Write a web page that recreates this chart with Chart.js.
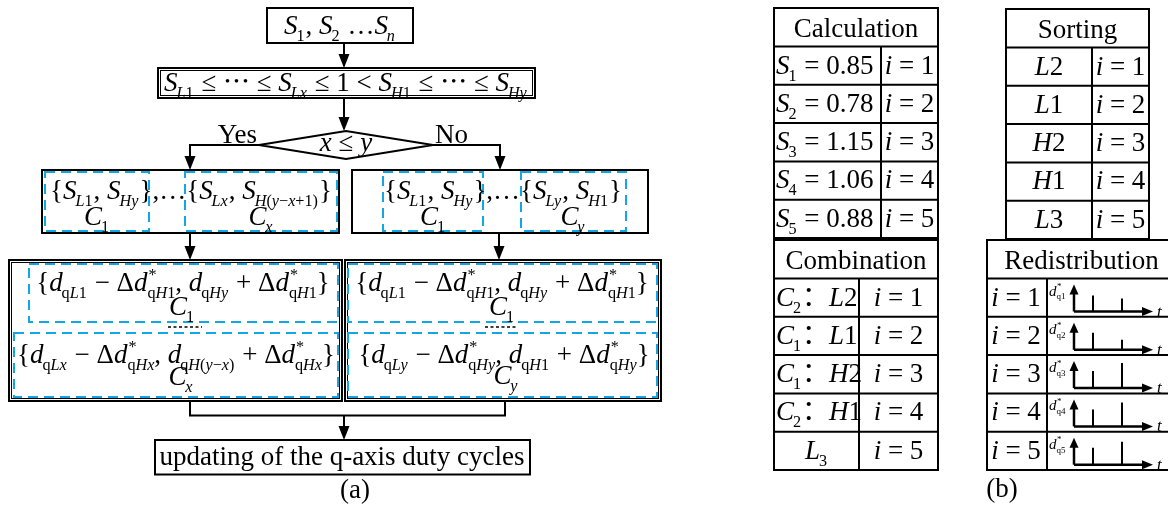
<!DOCTYPE html>
<html>
<head>
<meta charset="utf-8">
<title>q-axis duty cycle redistribution</title>
<script src="https://cdn.jsdelivr.net/npm/chart.js@4.4.0/dist/chart.umd.min.js"></script>
<style>
  html, body { margin: 0; padding: 0; background: #fff; }
  canvas { display: block; }
</style>
</head>
<body>
<canvas id="diagram" width="1168" height="505"></canvas>
<script>
/*************************
 TABLE CONTENTS
**************************/
const stepIndex = [1, 2, 3, 4, 5];
const calcRatios = [0.85, 0.78, 1.15, 1.06, 0.88];
const sortedLabels = ["L2", "L1", "H2", "H1", "L3"];
const comboGroups = ["C_{2}", "C_{1}", "C_{1}", "C_{2}", null];
const comboMembers = ["L2", "L1", "H2", "H1", "L_{3}"];
// pulse heights of the redistributed duty cycles (first / second pulse)
const dutyPulseA = [16, 17, 17, 17, 17];
const dutyPulseB = [13, 10, 25, 24, 23];

/*************************
 STYLE + GEOMETRY
**************************/
const FONT = '"Liberation Serif", "DejaVu Serif", "Noto Sans CJK SC", serif';
const SIZE = 27;
const BLUE = "#13a6e3";
const HEAD_H = 38.5;
const ROW_H = 38.3;

const calcTable = { x0: 774, x1: 938, xm: 881, y0: 8 };
const sortTable = { x0: 1006, x1: 1149, xm: 1092, y0: 9 };
const comboTable = { x0: 774, x1: 938, xm: 859, y0: 240 };
const redistTable = { x0: 987, x1: 1176, xm: 1047, y0: 240 };
const mini = { axisX: 1074, tipX: 1153, pulseX: [1093, 1122], baseOff: 33 };

/*************************
 MATH TEXT HELPERS
**************************/
function fontOf(italic, size) {
  return (italic ? "italic " : "") + size + "px " + FONT;
}

// split "S_{L1} ^{*}" style markup into base / sub / sup tokens
function tokenize(src) {
  const out = [];
  let i = 0;
  const isScript = j => (src[j] === "_" || src[j] === "^") && src[j + 1] === "{";
  while (i < src.length) {
    if (isScript(i)) {
      const end = src.indexOf("}", i + 2);
      out.push({ lvl: src[i] === "_" ? 1 : -1, body: src.slice(i + 2, end) });
      i = end + 1;
    } else {
      let j = i;
      while (j < src.length && !isScript(j)) j++;
      out.push({ lvl: 0, body: src.slice(i, j) });
      i = j;
    }
  }
  return out;
}

// letters are italic unless wrapped in [ ]
function splitRuns(body) {
  const runs = [];
  let roman = false;
  for (const ch of body) {
    if (ch === "[") { roman = true; continue; }
    if (ch === "]") { roman = false; continue; }
    const it = !roman && /[A-Za-z]/.test(ch);
    const last = runs[runs.length - 1];
    if (last && last.it === it) last.t += ch;
    else runs.push({ t: ch, it });
  }
  return runs;
}

function layoutMath(ctx, src, size) {
  const toks = tokenize(src);
  const placed = [];
  let pen = 0, supW = null;
  toks.forEach((tk, k) => {
    const fs = tk.lvl ? size * 0.6 : size;
    const runs = splitRuns(tk.body);
    let w = 0;
    runs.forEach(r => {
      ctx.font = fontOf(r.it, fs);
      r.w = ctx.measureText(r.t).width;
      w += r.w;
    });
    const dy = tk.lvl === 1 ? size * 0.26 : tk.lvl === -1 ? -size * 0.42 : 0;
    let x0 = pen;
    if (tk.lvl === 1 && k > 0 && toks[k - 1].lvl === 0) x0 -= size * 0.04;
    if (tk.lvl === -1) x0 += size * 0.04;
    placed.push({ x: x0, dy, fs, runs });
    const next = toks[k + 1];
    if (tk.lvl === -1 && next && next.lvl === 1) supW = w;
    else if (tk.lvl === 1 && supW !== null) { pen += Math.max(w, supW); supW = null; }
    else pen += w;
  });
  return { placed, width: pen };
}

function drawMath(ctx, src, x, base, size, align) {
  const lay = layoutMath(ctx, src, size || SIZE);
  let ox = x;
  if (align === "center") ox = x - lay.width / 2;
  else if (align === "right") ox = x - lay.width;
  ctx.fillStyle = "#000";
  ctx.textBaseline = "alphabetic";
  ctx.textAlign = "left";
  lay.placed.forEach(p => {
    let cx = ox + p.x;
    p.runs.forEach(r => {
      ctx.font = fontOf(r.it, p.fs);
      ctx.fillText(r.t, cx, base + p.dy);
      cx += r.w;
    });
  });
}

function drawWord(ctx, text, x, base, align) {
  ctx.font = fontOf(false, SIZE);
  ctx.fillStyle = "#000";
  ctx.textBaseline = "alphabetic";
  ctx.textAlign = align || "center";
  ctx.fillText(text, x, base);
}

/*************************
 DIAGRAM PLUGIN
**************************/
const diagramPlugin = {
  id: "diagram",
  beforeDatasetsDraw(chart) {
    const ctx = chart.ctx;
    const X = v => chart.scales.x.getPixelForValue(v);
    const Y = v => chart.scales.y.getPixelForValue(v);

    const box = (x0, y0, x1, y1, lw, double) => {
      ctx.save();
      ctx.strokeStyle = "#000";
      ctx.lineWidth = lw || 2;
      ctx.setLineDash([]);
      ctx.strokeRect(X(x0), Y(y0), X(x1) - X(x0), Y(y1) - Y(y0));
      if (double) {
        ctx.lineWidth = 1;
        ctx.strokeRect(X(x0) + 2.5, Y(y0) + 2.5, X(x1) - X(x0) - 5, Y(y1) - Y(y0) - 5);
      }
      ctx.restore();
    };
    const dashed = (x0, y0, x1, y1) => {
      ctx.save();
      ctx.strokeStyle = BLUE;
      ctx.lineWidth = 2;
      ctx.setLineDash([10, 6]);
      ctx.strokeRect(X(x0), Y(y0), X(x1) - X(x0), Y(y1) - Y(y0));
      ctx.restore();
    };
    const poly = (pts, lw) => {
      ctx.save();
      ctx.strokeStyle = "#000";
      ctx.lineWidth = lw || 2;
      ctx.beginPath();
      pts.forEach((p, k) => k ? ctx.lineTo(X(p[0]), Y(p[1])) : ctx.moveTo(X(p[0]), Y(p[1])));
      ctx.stroke();
      ctx.restore();
    };
    const head = (x, y, dir, len, wid) => {
      // dir: "down", "up" or "right"
      ctx.save();
      ctx.fillStyle = "#000";
      ctx.beginPath();
      const px = X(x), py = Y(y);
      if (dir === "down") {
        ctx.moveTo(px, py); ctx.lineTo(px - wid / 2, py - len); ctx.lineTo(px + wid / 2, py - len);
      } else if (dir === "up") {
        ctx.moveTo(px, py); ctx.lineTo(px - wid / 2, py + len); ctx.lineTo(px + wid / 2, py + len);
      } else {
        ctx.moveTo(px, py); ctx.lineTo(px - len, py - wid / 2); ctx.lineTo(px - len, py + wid / 2);
      }
      ctx.closePath();
      ctx.fill();
      ctx.restore();
    };
    const arrowDown = (x, y0, y1) => {
      poly([[x, y0], [x, y1 - 10]]);
      head(x, y1, "down", 14, 11);
    };
    const dots = (x0, x1, y) => {
      ctx.save();
      ctx.strokeStyle = "#000";
      ctx.lineWidth = 1.5;
      ctx.setLineDash([3, 2.5]);
      ctx.beginPath();
      ctx.moveTo(X(x0), Y(y)); ctx.lineTo(X(x1), Y(y));
      ctx.stroke();
      ctx.restore();
    };

    ctx.save();
    ctx.fillStyle = "#fff";
    ctx.fillRect(0, 0, chart.width, chart.height);
    ctx.restore();

    /* ---- (a) flowchart ---- */
    box(267, 8, 413, 43);
    drawMath(ctx, "S_{1}, S_{2} …S_{n}", X(340), Y(34), SIZE, "center");
    arrowDown(344, 43, 68);

    box(158, 68, 535, 98, 2, true);
    drawMath(ctx, "S_{L1} ≤ ⋯ ≤ S_{Lx} ≤ 1 < S_{H1} ≤ ⋯ ≤ S_{Hy}", X(346), Y(91), SIZE, "center");
    arrowDown(344, 98, 131);

    poly([[259, 145], [346, 131], [433, 145], [346, 159], [259, 145]]);
    drawMath(ctx, "x ≤ y", X(346), Y(151), SIZE, "center");
    drawWord(ctx, "Yes", X(257), Y(143), "right");
    drawWord(ctx, "No", X(435), Y(143), "left");
    poly([[259, 145], [190, 145], [190, 160]]);
    head(190, 170, "down", 14, 11);
    poly([[433, 145], [500, 145], [500, 160]]);
    head(500, 170, "down", 14, 11);

    // pairing boxes
    box(42, 170, 339, 233);
    dashed(45, 172, 149, 231);
    dashed(185, 172, 337, 231);
    drawMath(ctx, "{S_{L1}, S_{Hy}},…{S_{Lx}, S_{H(y−x+1)}}", X(191), Y(199), SIZE, "center");
    drawMath(ctx, "C_{1}", X(97), Y(225), SIZE, "center");
    drawMath(ctx, "C_{x}", X(261), Y(225), SIZE, "center");

    box(352, 170, 648, 233);
    dashed(383, 172, 483, 231);
    dashed(521, 172, 626, 231);
    drawMath(ctx, "{S_{L1}, S_{Hy}},…{S_{Ly}, S_{H1}}", X(503), Y(199), SIZE, "center");
    drawMath(ctx, "C_{1}", X(433), Y(225), SIZE, "center");
    drawMath(ctx, "C_{y}", X(573), Y(225), SIZE, "center");

    arrowDown(190, 233, 260);
    arrowDown(499, 233, 260);

    // duty cycle exchange boxes
    box(9, 260, 342, 401, 2, true);
    dashed(29, 264, 338, 322);
    dashed(14, 333, 338, 397);
    drawMath(ctx, "{d_{[q]L1} − Δd^{*}_{[q]H1}, d_{[q]Hy} + Δd^{*}_{[q]H1}}", X(183), Y(291), SIZE, "center");
    drawMath(ctx, "C_{1}", X(182), Y(315), SIZE, "center");
    dots(168, 202, 327);
    drawMath(ctx, "{d_{[q]Lx} − Δd^{*}_{[q]Hx}, d_{[q]H(y−x)} + Δd^{*}_{[q]Hx}}", X(176), Y(363), SIZE, "center");
    drawMath(ctx, "C_{x}", X(181), Y(385), SIZE, "center");

    box(345, 260, 661, 401, 2, true);
    dashed(348, 264, 657, 322);
    dashed(348, 333, 657, 397);
    drawMath(ctx, "{d_{[q]L1} − Δd^{*}_{[q]H1}, d_{[q]Hy} + Δd^{*}_{[q]H1}}", X(502), Y(291), SIZE, "center");
    drawMath(ctx, "C_{1}", X(502), Y(315), SIZE, "center");
    dots(485, 518, 327);
    drawMath(ctx, "{d_{[q]Ly} − Δd^{*}_{[q]Hy}, d_{[q]H1} + Δd^{*}_{[q]Hy}}", X(504), Y(363), SIZE, "center");
    drawMath(ctx, "C_{y}", X(506), Y(384), SIZE, "center");

    poly([[190, 401], [190, 415.5], [505, 415.5], [505, 401]]);
    arrowDown(344, 415.5, 440);
    box(155, 440, 530, 474.5);
    drawWord(ctx, "updating of the q-axis duty cycles", X(342), Y(465));
    drawWord(ctx, "(a)", X(355), Y(498));

    /* ---- (b) tables ---- */
    const grid = (t, title) => {
      const yHead = t.y0 + HEAD_H;
      const yEnd = yHead + stepIndex.length * ROW_H;
      box(t.x0, t.y0, t.x1, yEnd);
      const rows = [yHead];
      stepIndex.forEach((s, i) => rows.push(yHead + (i + 1) * ROW_H));
      rows.slice(0, -1).forEach(y => poly([[t.x0, y], [t.x1, y]]));
      poly([[t.xm, yHead], [t.xm, yEnd]]);
      drawWord(ctx, title, X((t.x0 + Math.min(t.x1, 1176)) / 2), Y(t.y0 + 29));
      return i => yHead + i * ROW_H;
    };

    let rowTop = grid(calcTable, "Calculation");
    stepIndex.forEach((s, i) => {
      const b = Y(rowTop(i) + 27);
      drawMath(ctx, "S_{" + s + "} = " + calcRatios[i].toFixed(2), X(calcTable.x0 + 2), b, SIZE, "left");
      drawMath(ctx, "i = " + s, X((calcTable.xm + calcTable.x1) / 2), b, SIZE, "center");
    });

    rowTop = grid(sortTable, "Sorting");
    stepIndex.forEach((s, i) => {
      const b = Y(rowTop(i) + 27);
      drawMath(ctx, sortedLabels[i], X((sortTable.x0 + sortTable.xm) / 2), b, SIZE, "center");
      drawMath(ctx, "i = " + s, X((sortTable.xm + sortTable.x1) / 2), b, SIZE, "center");
    });

    rowTop = grid(comboTable, "Combination");
    stepIndex.forEach((s, i) => {
      const b = Y(rowTop(i) + 27);
      if (comboGroups[i]) {
        drawMath(ctx, comboGroups[i] + "：" + comboMembers[i], X(comboTable.x0 + 2), b, SIZE, "left");
      } else {
        drawMath(ctx, comboMembers[i], X((comboTable.x0 + comboTable.xm) / 2), b, SIZE, "center");
      }
      drawMath(ctx, "i = " + s, X((comboTable.xm + comboTable.x1) / 2), b, SIZE, "center");
    });

    rowTop = grid(redistTable, "Redistribution");
    stepIndex.forEach((s, i) => {
      const top = rowTop(i);
      drawMath(ctx, "i = " + s, X((redistTable.x0 + redistTable.xm) / 2 - 1), Y(top + 27), SIZE, "center");
      const base = top + mini.baseOff;
      poly([[mini.axisX, base], [mini.axisX, top + 14]], 2.5);
      head(mini.axisX, top + 6, "up", 10, 9);
      poly([[mini.axisX, base], [mini.tipX - 8, base]], 2.5);
      head(mini.tipX, base, "right", 11, 9);
      drawMath(ctx, "d^{*}_{[q" + s + "]}", X(1049), Y(top + 17), 15, "left");
      drawMath(ctx, "t", X(1157), Y(top + 38), 17, "left");
    });
    drawWord(ctx, "(b)", X(1002), Y(497));
  }
};

/*************************
 CHART (pulse marks + scales)
**************************/
const pulseSets = [];
stepIndex.forEach((s, i) => {
  const base = redistTable.y0 + HEAD_H + i * ROW_H + mini.baseOff;
  [dutyPulseA[i], dutyPulseB[i]].forEach((h, k) => {
    pulseSets.push({
      label: "d*q" + s + "-" + (k + 1),
      data: [{ x: mini.pulseX[k], y: base }, { x: mini.pulseX[k], y: base - h }],
      showLine: true,
      borderColor: "#000",
      borderWidth: 2,
      pointRadius: 0,
      fill: false
    });
  });
});

const diagramChart = new Chart(document.getElementById("diagram"), {
  type: "scatter",
  data: { datasets: pulseSets },
  options: {
    responsive: false,
    animation: false,
    devicePixelRatio: 1,
    events: [],
    layout: { padding: 0 },
    plugins: { legend: { display: false }, tooltip: { enabled: false } },
    scales: {
      x: { type: "linear", min: 0, max: 1168, display: false },
      y: { type: "linear", min: 0, max: 505, reverse: true, display: false }
    }
  },
  plugins: [diagramPlugin]
});
</script>
</body>
</html>
